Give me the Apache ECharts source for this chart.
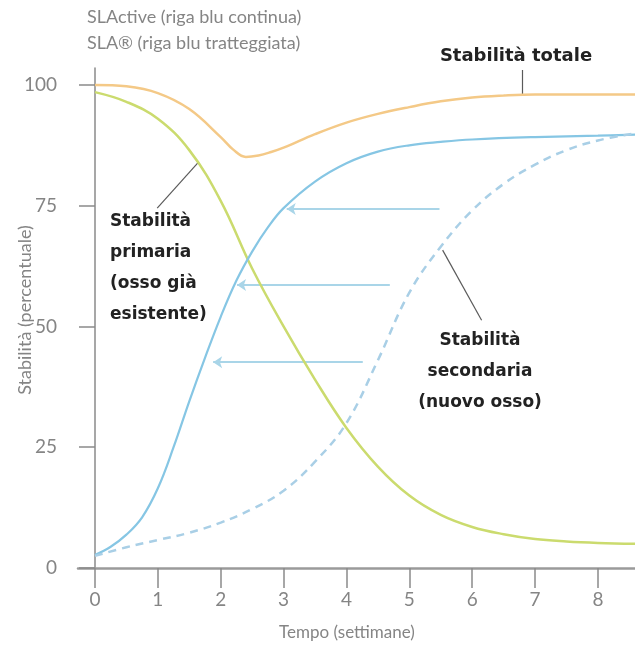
<!DOCTYPE html>
<html>
<head>
<meta charset="utf-8">
<script src="https://cdn.jsdelivr.net/npm/echarts@6/dist/echarts.min.js"></script>
<style>
  html, body { margin: 0; padding: 0; background: #fff; }
  #chart { width: 635px; height: 646px; }
</style>
</head>
<body>
<div id="chart"></div>
<script>
// curves (x = weeks, y = percent)
const totalWeeks = [0, 0.5, 1, 1.5, 2, 2.2, 2.4, 2.6, 2.8, 3, 3.5, 4, 4.5, 5, 5.5, 6, 6.5, 7, 7.5, 8, 8.6];
const totalStability = [100, 99.7, 98.3, 95, 89.2, 86.6, 85.1, 85.4, 86.1, 87, 89.8, 92.2, 94, 95.4, 96.6, 97.4, 97.8, 98, 98, 98, 98];

const primaryWeeks = [0, 0.5, 1, 1.5, 2, 2.5, 3, 3.5, 4, 4.5, 5, 5.5, 6, 6.5, 7, 7.5, 8, 8.6];
const primaryStability = [98.5, 96.5, 93, 86.5, 76, 62, 50, 39, 29, 21, 15, 11, 8.5, 7, 6, 5.5, 5.2, 5];

const slactiveWeeks = [0, 0.25, 0.5, 0.75, 1, 1.25, 1.5, 1.75, 2, 2.25, 2.5, 2.75, 3, 3.5, 4, 4.5, 5, 5.5, 6, 7, 8, 8.6];
const slactiveStability = [2.7, 4.4, 6.9, 10.5, 16.5, 25, 34.5, 43.5, 52, 59.5, 65.5, 70.5, 74.5, 80, 83.8, 86.2, 87.5, 88.2, 88.7, 89.2, 89.5, 89.7];

const slaWeeks = [0, 0.5, 1, 1.5, 2, 2.5, 3, 3.5, 4, 4.5, 5, 5.5, 6, 6.5, 7, 7.5, 8, 8.6];
const slaStability = [2.5, 4.3, 5.8, 7.3, 9.4, 12.2, 16, 22, 30, 43, 57, 66.5, 74, 79.5, 83.5, 86.5, 88.5, 90];

// the three blue arrows (tail -> head)
const arrowLevels = [74.3, 58.6, 42.6];
const arrowFrom = [5.48, 4.69, 4.26];
const arrowTo = [3.05, 2.26, 1.88];

// label pointer lines
const pointers = [
  [[1.64, 83.9], [0.99, 74.5]],
  [[5.53, 65.8], [6.15, 51.3]],
  [[6.79, 103.1], [6.79, 98.1]]
];

const xTicks = [0, 1, 2, 3, 4, 5, 6, 7, 8];
const yTicks = [0, 25, 50, 75, 100];

const zip = (xs, ys) => xs.map((x, i) => [x, ys[i]]);

const grey = '#858585';
const tickFont = { fontFamily: 'Lato', color: grey, fontSize: 19 };
const boldFont = { fontFamily: 'DejaVu Sans', fontWeight: 'bold', fill: '#222', fontSize: 17 };

const chart = echarts.init(document.getElementById('chart'));

chart.setOption({
  animation: false,
  grid: { left: 78, right: 0, top: 68, height: 500 },
  xAxis: {
    type: 'value',
    min: -0.27,
    max: 8.59,
    axisLine: { onZero: true, lineStyle: { color: '#9a9a9a', width: 2.5 } },
    axisTick: { customValues: xTicks, length: 20, lineStyle: { color: '#8a8a8a', width: 1.5 } },
    axisLabel: Object.assign({ customValues: xTicks, margin: 22 }, tickFont),
    splitLine: { show: false }
  },
  yAxis: {
    type: 'value',
    min: 0,
    max: 103.5,
    axisLine: { show: true, onZero: true, lineStyle: { color: '#8a8a8a', width: 1.5 } },
    axisTick: { show: true, customValues: yTicks, length: 16, lineStyle: { color: '#8a8a8a', width: 1.5 } },
    axisLabel: Object.assign({ customValues: yTicks, margin: 21 }, tickFont),
    splitLine: { show: false }
  },
  series: [
    {
      name: 'Stabilità totale',
      type: 'line',
      data: zip(totalWeeks, totalStability),
      smooth: 0.4,
      showSymbol: false,
      lineStyle: { color: '#f4c987', width: 2.5 }
    },
    {
      name: 'Stabilità primaria',
      type: 'line',
      data: zip(primaryWeeks, primaryStability),
      smooth: 0.4,
      showSymbol: false,
      lineStyle: { color: '#cbdb6e', width: 2.5 }
    },
    {
      name: 'SLActive',
      type: 'line',
      data: zip(slactiveWeeks, slactiveStability),
      smooth: 0.4,
      showSymbol: false,
      lineStyle: { color: '#86c6e4', width: 2.2 }
    },
    {
      name: 'SLA',
      type: 'line',
      data: zip(slaWeeks, slaStability),
      smooth: 0.4,
      showSymbol: false,
      lineStyle: { color: '#a9cfe6', width: 2.5, type: [8, 6] }
    },
    {
      type: 'lines',
      coordinateSystem: 'cartesian2d',
      silent: true,
      symbol: ['none', 'arrow'],
      symbolSize: [7, 9],
      lineStyle: { color: '#a9d5e8', width: 1.8, opacity: 1 },
      data: arrowLevels.map((y, i) => ({ coords: [[arrowFrom[i], y], [arrowTo[i], y]] }))
    },
    {
      type: 'lines',
      coordinateSystem: 'cartesian2d',
      silent: true,
      lineStyle: { color: '#5a5a5a', width: 1.2, opacity: 1 },
      data: pointers.map(p => ({ coords: p }))
    }
  ],
  graphic: [
    { type: 'text', left: 87, top: 8, style: { text: 'SLActive (riga blu continua)', font: '18px Lato', fill: grey } },
    { type: 'text', left: 87, top: 34, style: { text: 'SLA® (riga blu tratteggiata)', font: '18px Lato', fill: grey } },
    { type: 'text', x: 516, y: 56, style: Object.assign({ text: 'Stabilità totale', align: 'center', verticalAlign: 'middle' }, boldFont, { fontSize: 18 }) },
    { type: 'text', x: 110, y: 206, style: Object.assign({ text: 'Stabilità\nprimaria\n(osso già\nesistente)', lineHeight: 31 }, boldFont) },
    { type: 'text', x: 480, y: 325, style: Object.assign({ text: 'Stabilità\nsecondaria\n(nuovo osso)', align: 'center', lineHeight: 31 }, boldFont) },
    { type: 'text', x: 347, y: 633, style: { text: 'Tempo (settimane)', align: 'center', verticalAlign: 'middle', font: '17px Lato', fill: grey } },
    { type: 'text', x: 25, y: 310, rotation: Math.PI / 2, style: { text: 'Stabilità (percentuale)', align: 'center', verticalAlign: 'middle', font: '18px Lato', fill: grey } }
  ]
});
</script>
</body>
</html>
